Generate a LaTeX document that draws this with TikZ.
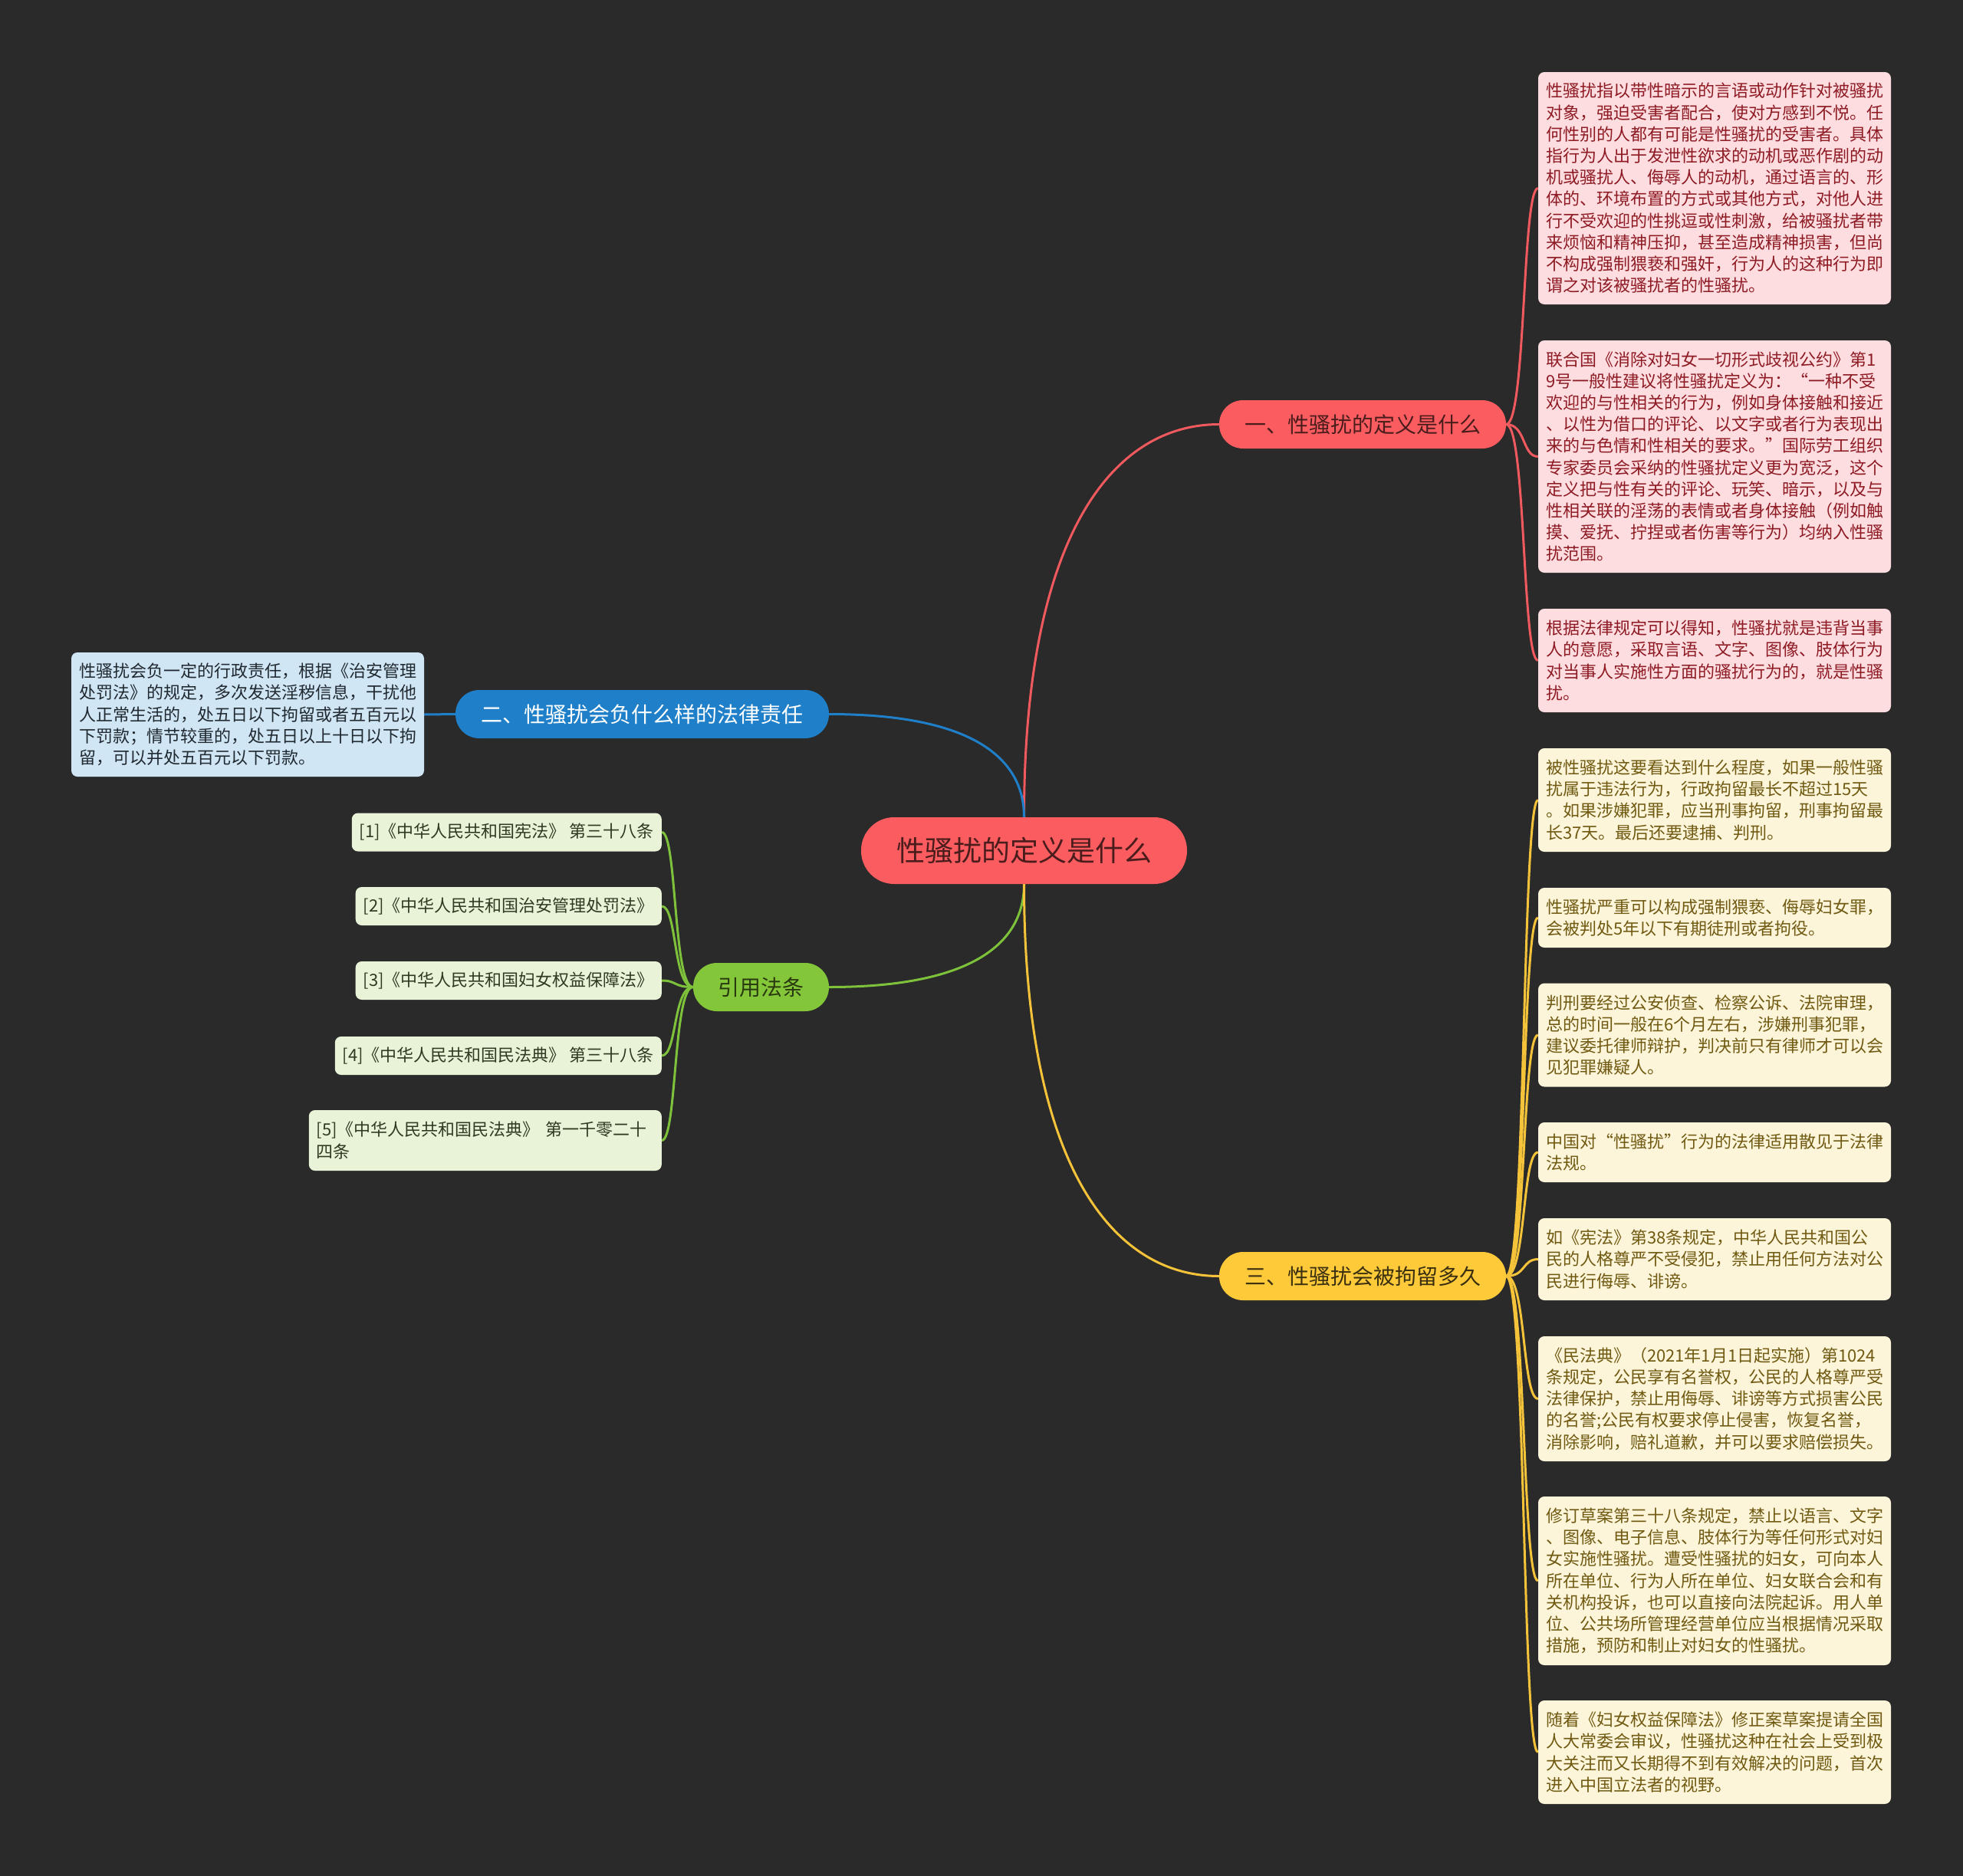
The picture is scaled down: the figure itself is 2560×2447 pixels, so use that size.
\documentclass[tikz,border=0pt]{standalone}
\usepackage{fontspec}
\setmainfont{Noto Sans CJK SC}
\usetikzlibrary{calc,backgrounds}
\definecolor{bgc}{HTML}{2A2A2A}
\definecolor{redfill}{HTML}{FB5C60}
\definecolor{redline}{HTML}{F0595D}
\definecolor{redtext}{HTML}{4A1C1C}
\definecolor{redleaf}{HTML}{FDDDE0}
\definecolor{redleaftext}{HTML}{8E1B24}
\definecolor{bluefill}{HTML}{1F7FC8}
\definecolor{blueleaf}{HTML}{D0E6F4}
\definecolor{blueleaftext}{HTML}{202830}
\definecolor{greenfill}{HTML}{84C63A}
\definecolor{greenline}{HTML}{7DC23A}
\definecolor{greentext}{HTML}{2A3A10}
\definecolor{greenleaf}{HTML}{E9F3D8}
\definecolor{greenleaftext}{HTML}{2E3B20}
\definecolor{yellowfill}{HTML}{FFCA3A}
\definecolor{yellowline}{HTML}{F5C33A}
\definecolor{yellowtext}{HTML}{3A3010}
\definecolor{yellowleaf}{HTML}{FDF5DA}
\definecolor{yellowleaftext}{HTML}{705A12}
\tikzset{
  leafbox/.style={rectangle, rounded corners=8pt, inner xsep=10pt, inner ysep=0pt,
    align=left, font=\fontsize{22pt}{28.2pt}\selectfont},
  wideleaf/.style={leafbox, text width=440pt},
  leafR/.style={wideleaf, fill=redleaf, text=redleaftext},
  leafY/.style={wideleaf, fill=yellowleaf, text=yellowleaftext},
  leafB/.style={wideleaf, fill=blueleaf, text=blueleaftext},
  leafG/.style={leafbox, fill=greenleaf, text=greenleaftext, minimum height=50pt},
  pill/.style={rectangle, rounded corners=31pt, inner sep=0pt, minimum height=63pt,
    font=\fontsize{28pt}{34pt}\selectfont},
  rootbox/.style={rectangle, rounded corners=43pt, inner sep=0pt, minimum height=87pt,
    minimum width=425pt, fill=redfill, text=redtext, font=\fontsize{37pt}{44pt}\selectfont},
  conR/.style={draw=redline, line width=3pt},
  conB/.style={draw=bluefill, line width=3pt},
  conG/.style={draw=greenline, line width=3pt},
  conY/.style={draw=yellowline, line width=3pt},
}
\begin{document}
\begin{tikzpicture}[x=1pt,y=-1pt]
\useasboundingbox (0,0) rectangle (2560,2447);

% root and main branches
\node[rootbox] (root) at (1335.5,1109.5) {性骚扰的定义是什么};
\node[pill, fill=redfill, text=redtext, minimum width=374pt] (b1) at (1777,553.5) {一、性骚扰的定义是什么};
\node[pill, fill=bluefill, text=white, minimum width=487pt] (b2) at (837.5,931.5) {二、性骚扰会负什么样的法律责任};
\node[pill, fill=greenfill, text=greentext, minimum width=177pt] (bg) at (992.5,1287.5) {引用法条};
\node[pill, fill=yellowfill, text=yellowtext, minimum width=374pt] (b3) at (1777,1664.5) {三、性骚扰会被拘留多久};

% red leaves
\node[leafR, minimum height=303pt] (r1) at (2236,245.5) {性骚扰指以带性暗示的言语或动作针对被骚扰\\对象，强迫受害者配合，使对方感到不悦。任\\何性别的人都有可能是性骚扰的受害者。具体\\指行为人出于发泄性欲求的动机或恶作剧的动\\机或骚扰人、侮辱人的动机，通过语言的、形\\体的、环境布置的方式或其他方式，对他人进\\行不受欢迎的性挑逗或性刺激，给被骚扰者带\\来烦恼和精神压抑，甚至造成精神损害，但尚\\不构成强制猥亵和强奸，行为人的这种行为即\\谓之对该被骚扰者的性骚扰。};
\node[leafR, minimum height=303pt] (r2) at (2236,595.5) {联合国《消除对妇女一切形式歧视公约》第1\\9号一般性建议将性骚扰定义为：“一种不受\\欢迎的与性相关的行为，例如身体接触和接近\\、以性为借口的评论、以文字或者行为表现出\\来的与色情和性相关的要求。”国际劳工组织\\专家委员会采纳的性骚扰定义更为宽泛，这个\\定义把与性有关的评论、玩笑、暗示，以及与\\性相关联的淫荡的表情或者身体接触（例如触\\摸、爱抚、拧捏或者伤害等行为）均纳入性骚\\扰范围。};
\node[leafR, minimum height=135pt] (r3) at (2236,861.5) {根据法律规定可以得知，性骚扰就是违背当事\\人的意愿，采取言语、文字、图像、肢体行为\\对当事人实施性方面的骚扰行为的，就是性骚\\扰。};

% yellow leaves
\node[leafY, minimum height=135pt] (y1) at (2236,1043.5) {被性骚扰这要看达到什么程度，如果一般性骚\\扰属于违法行为，行政拘留最长不超过15天\\。如果涉嫌犯罪，应当刑事拘留，刑事拘留最\\长37天。最后还要逮捕、判刑。};
\node[leafY, minimum height=78pt] (y2) at (2236,1197) {性骚扰严重可以构成强制猥亵、侮辱妇女罪，\\会被判处5年以下有期徒刑或者拘役。};
\node[leafY, minimum height=135pt] (y3) at (2236,1350) {判刑要经过公安侦查、检察公诉、法院审理，\\总的时间一般在6个月左右，涉嫌刑事犯罪，\\建议委托律师辩护，判决前只有律师才可以会\\见犯罪嫌疑人。};
\node[leafY, minimum height=78pt] (y4) at (2236,1503) {中国对“性骚扰”行为的法律适用散见于法律\\法规。};
\node[leafY, minimum height=107pt] (y5) at (2236,1642.5) {如《宪法》第38条规定，中华人民共和国公\\民的人格尊严不受侵犯，禁止用任何方法对公\\民进行侮辱、诽谤。};
\node[leafY, minimum height=163pt] (y6) at (2236,1824.5) {《民法典》（2021年1月1日起实施）第1024\\条规定，公民享有名誉权，公民的人格尊严受\\法律保护，禁止用侮辱、诽谤等方式损害公民\\的名誉;公民有权要求停止侵害，恢复名誉，\\消除影响，赔礼道歉，并可以要求赔偿损失。};
\node[leafY, minimum height=220pt] (y7) at (2236,2062) {修订草案第三十八条规定，禁止以语言、文字\\、图像、电子信息、肢体行为等任何形式对妇\\女实施性骚扰。遭受性骚扰的妇女，可向本人\\所在单位、行为人所在单位、妇女联合会和有\\关机构投诉，也可以直接向法院起诉。用人单\\位、公共场所管理经营单位应当根据情况采取\\措施，预防和制止对妇女的性骚扰。};
\node[leafY, minimum height=135pt] (y8) at (2236,2285.5) {随着《妇女权益保障法》修正案草案提请全国\\人大常委会审议，性骚扰这种在社会上受到极\\大关注而又长期得不到有效解决的问题，首次\\进入中国立法者的视野。};

% blue leaf
\node[leafB, minimum height=162pt] (bl) at (323,932) {性骚扰会负一定的行政责任，根据《治安管理\\处罚法》的规定，多次发送淫秽信息，干扰他\\人正常生活的，处五日以下拘留或者五百元以\\下罚款；情节较重的，处五日以上十日以下拘\\留，可以并处五百元以下罚款。};

% green leaves
\node[leafG, anchor=east] (g1) at (863,1085.5) {[1]《中华人民共和国宪法》 第三十八条};
\node[leafG, anchor=east] (g2) at (863,1182) {[2]《中华人民共和国治安管理处罚法》};
\node[leafG, anchor=east] (g3) at (863,1279) {[3]《中华人民共和国妇女权益保障法》};
\node[leafG, anchor=east] (g4) at (863,1377) {[4]《中华人民共和国民法典》 第三十八条};
\node[leafG, anchor=east, text width=440pt, minimum height=79pt] (g5) at (863,1487.5) {[5]《中华人民共和国民法典》 第一千零二十\\四条};

\begin{pgfonlayer}{background}
\fill[bgc] (0,0) rectangle (2560,2447);
% main connectors
\draw[conR] (root.north) .. controls (1335.5,700) and (1450,553.5) .. (b1.west);
\draw[conB] (root.north) .. controls (1335.5,990) and (1270,931.5) .. (b2.east);
\draw[conG] (root.south) .. controls (1335.5,1229) and (1270,1287.5) .. (bg.east);
\draw[conY] (root.south) .. controls (1335.5,1519) and (1450,1664.5) .. (b3.west);
% leaf connectors
\foreach \l in {r1,r2,r3}
  \draw[conR] (b1.east) .. controls ($(b1.east)+(26,0)$) and ($(\l.west)+(-21,0)$) .. (\l.west);
\foreach \l in {y1,y2,y3,y4,y5,y6,y7,y8}
  \draw[conY] (b3.east) .. controls ($(b3.east)+(26,0)$) and ($(\l.west)+(-21,0)$) .. (\l.west);
\foreach \l in {g1,g2,g3,g4,g5}
  \draw[conG] (bg.west) .. controls ($(bg.west)+(-26,0)$) and ($(\l.east)+(20,0)$) .. (\l.east);
\draw[conB] (b2.west) -- (bl.east);
\end{pgfonlayer}
\end{tikzpicture}
\end{document}
